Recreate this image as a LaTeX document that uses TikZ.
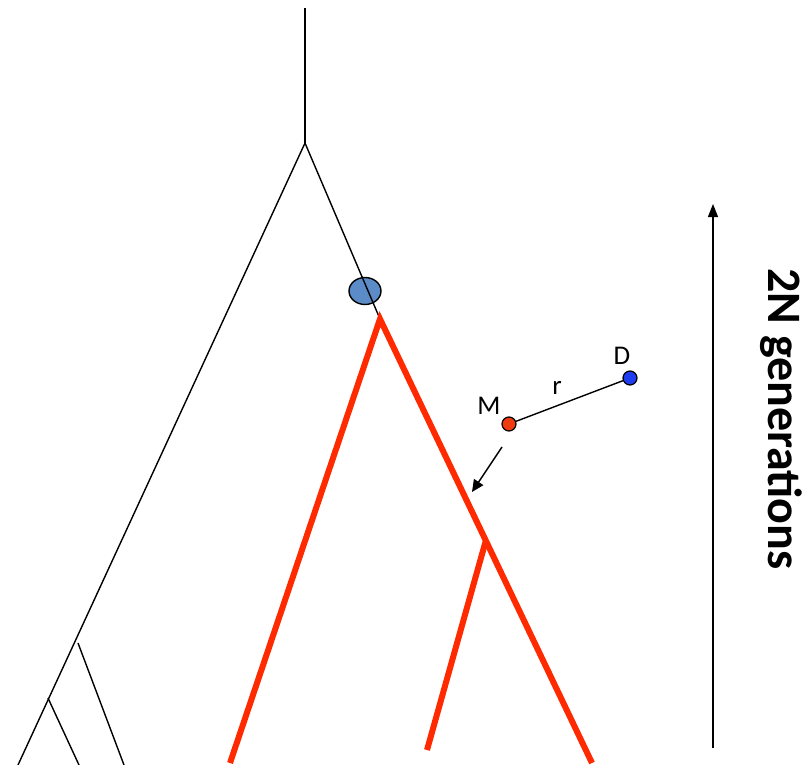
\documentclass[tikz,border=0pt]{standalone}
\usepackage{fontspec}
\setmainfont{Carlito}
\usetikzlibrary{arrows.meta,shapes.geometric}
\definecolor{redline}{HTML}{FF2A00}
\definecolor{ellblue}{HTML}{5B8CC8}
\definecolor{dblue}{HTML}{1E3CF0}
\definecolor{mred}{HTML}{F03A10}
\tikzset{
  thin line/.style={black, line width=1.4pt},
  red line/.style={redline, line width=6pt},
  dot/.style={circle, draw=black, line width=1.2pt, inner sep=0pt, minimum size=14pt},
  lbl/.style={font=\fontsize{27}{30}\selectfont, inner sep=0pt}
}
\begin{document}
\begin{tikzpicture}[x=1pt,y=-1pt]
\useasboundingbox (0,0) rectangle (809,765);
% coordinates
\coordinate (top) at (305,8);
\coordinate (root) at (305,143);
\coordinate (lb) at (18,765);
\coordinate (lsplit) at (48,698);
\coordinate (lsplitend) at (79,765);
\coordinate (l2top) at (78,643);
\coordinate (l2end) at (124,765);
\coordinate (redtop) at (380,319);
\coordinate (redleft) at (230,763);
\coordinate (redright) at (592,763);
\coordinate (redsplit) at (486,540);
\coordinate (redmid) at (427,750);
% black tree
\draw[thin line] (top) -- (root);
\draw[thin line] (root) -- (lb);
\draw[thin line] (lsplit) -- (lsplitend);
\draw[thin line] (l2top) -- (l2end);
\node[ellipse, draw=black, line width=1.4pt, fill=ellblue, minimum width=32pt, minimum height=27pt, inner sep=0pt] (ell) at (365,291) {};
\draw[thin line] (root) -- (redtop);
% red tree
\draw[red line] (redleft) -- (redtop) -- (redright);
\draw[red line] (redsplit) -- (redmid);
% M and D
\node[dot, fill=mred] (M) at (509,424) {};
\node[dot, fill=dblue] (D) at (630,378) {};
\draw[thin line] (M) -- (D);
\node[lbl] (Mlbl) at (489,406) {M};
\node[lbl] (Dlbl) at (622,356) {D};
\node[lbl] (rlbl) at (557,388) {r};
\coordinate (arrs) at (502,447);
\coordinate (arre) at (472,492);
\draw[thin line, -{Triangle[length=12pt,width=11pt]}] (arrs) -- (arre);
% time arrow
\coordinate (tb) at (713,748);
\coordinate (tt) at (713,204);
\draw[thin line, -{Triangle[length=13pt,width=10pt]}] (tb) -- (tt);
\node[rotate=-90, font=\bfseries\fontsize{48}{52}\selectfont, inner sep=0pt] (gen) at (781,419) {2N generations};
\end{tikzpicture}
\end{document}
